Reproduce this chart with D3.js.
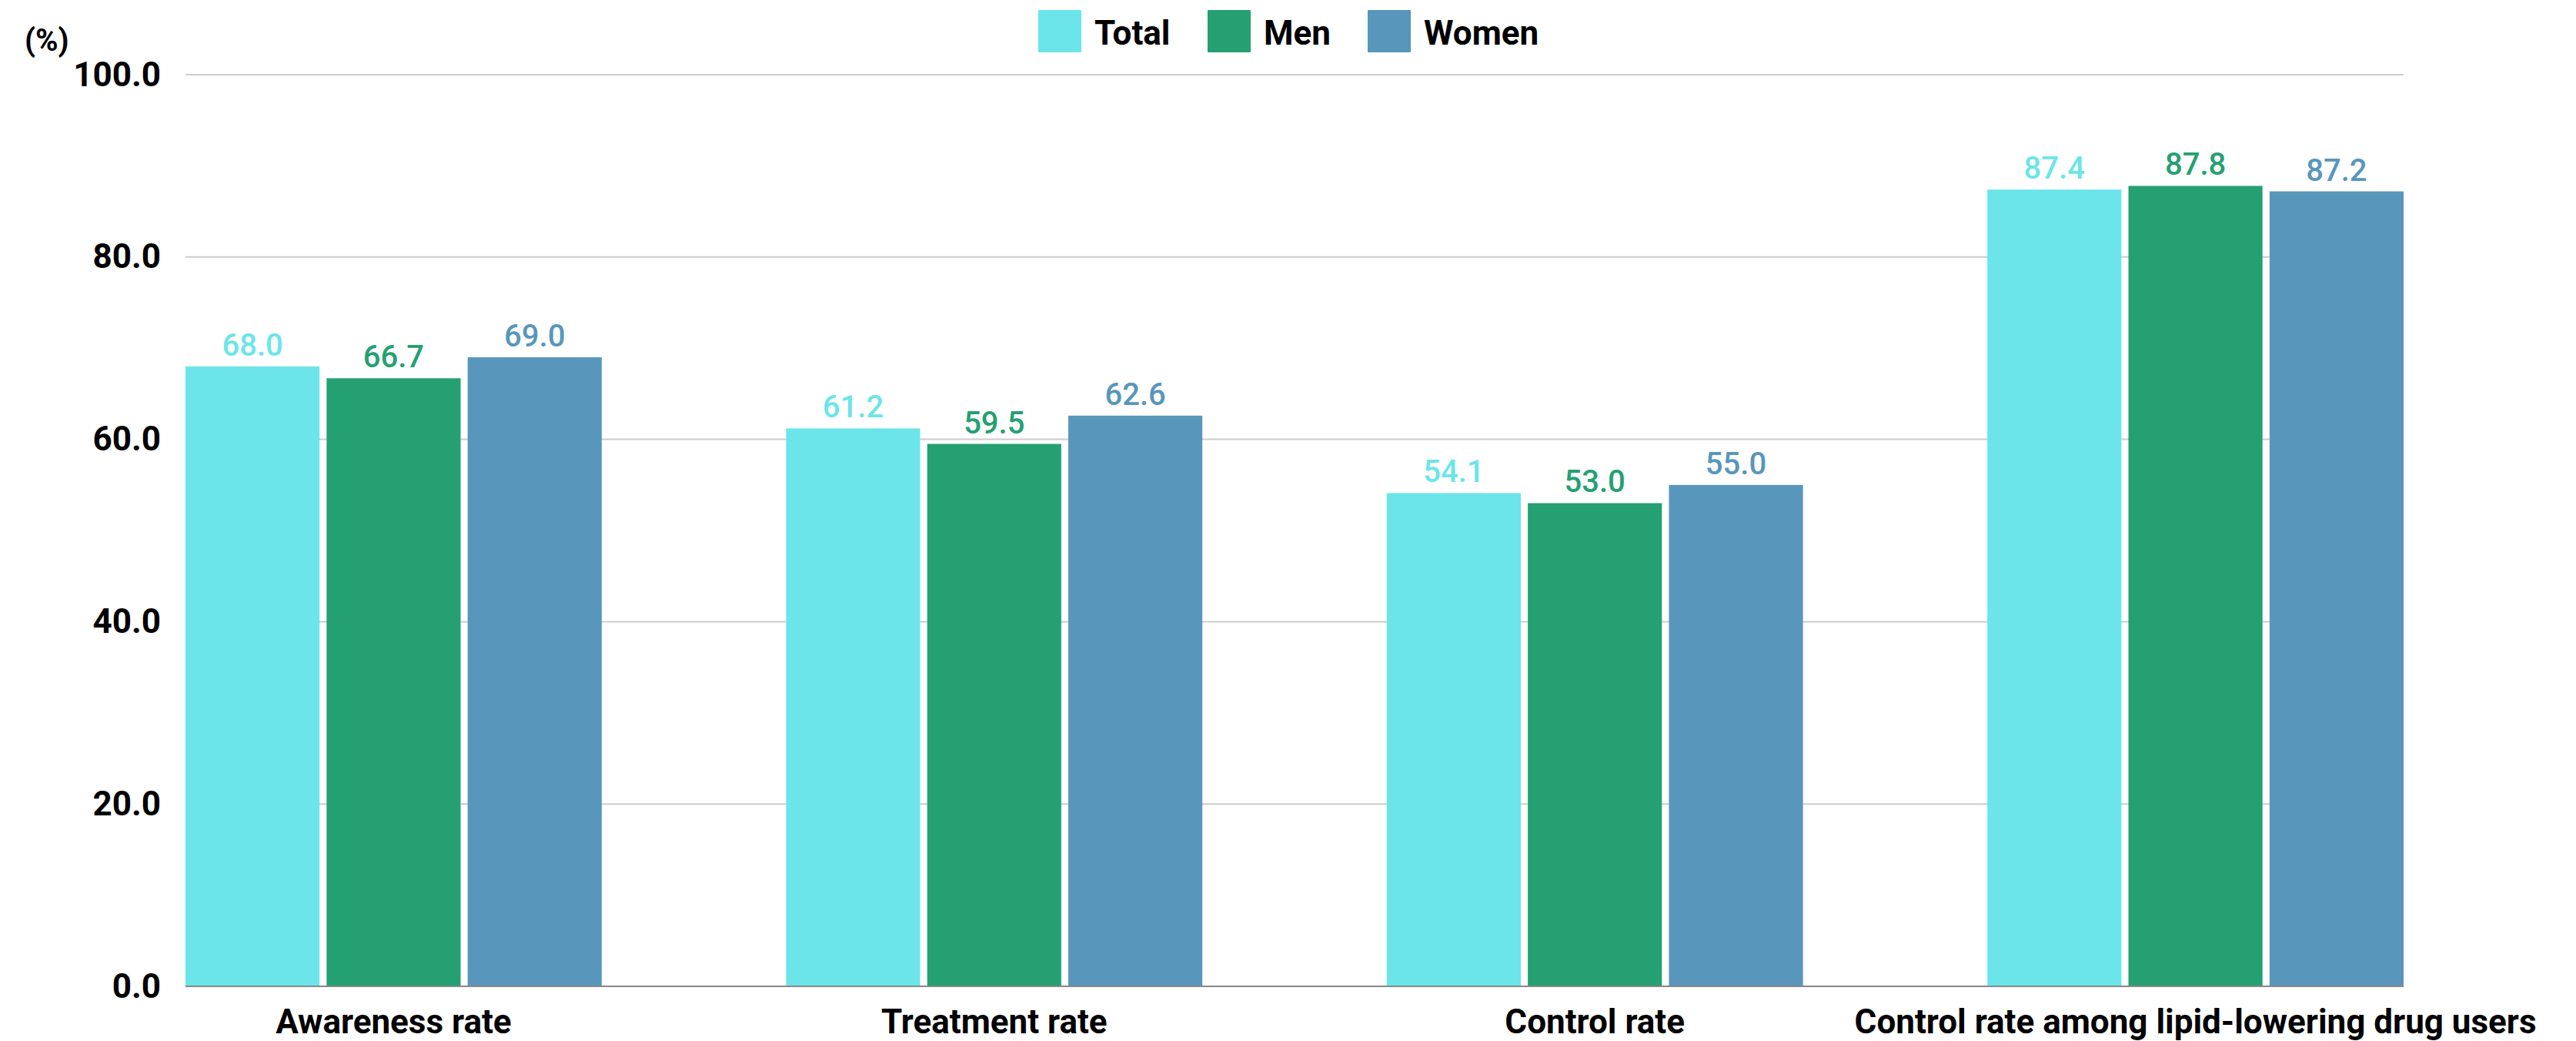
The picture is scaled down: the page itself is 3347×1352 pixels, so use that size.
<!DOCTYPE html>
<html>
<head>
<meta charset="utf-8">
<script src="https://cdn.jsdelivr.net/npm/d3@7"></script>
<style>
  html, body { margin: 0; padding: 0; background: #fff; }
  svg { display: block; font-family: Roboto, "Noto Sans", sans-serif; }
</style>
</head>
<body>
<svg id="chart" width="3347" height="1352"></svg>
<script>
// Dyslipidemia management indicators by sex (%)
const categories = [
  "Awareness rate",
  "Treatment rate",
  "Control rate",
  "Control rate among lipid-lowering drug users"
];
const seriesNames = ["Total", "Men", "Women"];
const totalValues = [68.0, 61.2, 54.1, 87.4];
const menValues   = [66.7, 59.5, 53.0, 87.8];
const womenValues = [69.0, 62.6, 55.0, 87.2];
const yTicks = [0, 20, 40, 60, 80, 100];
const colors = ["#6be5e9", "#24a072", "#5896bc"];

const seriesValues = [totalValues, menValues, womenValues];
const rows = categories.map((c, i) => ({
  category: c,
  values: seriesNames.map((s, j) => ({ series: s, value: seriesValues[j][i], idx: j }))
}));

const svg = d3.select("#chart");
const plotLeft = 241, plotRight = 3123, plotTop = 97, plotBottom = 1281;

const x0 = d3.scaleBand().domain(categories).range([plotLeft, plotRight])
  .paddingInner(0.307).paddingOuter(0);
const x1 = d3.scaleBand().domain(seriesNames).range([0, x0.bandwidth()])
  .paddingInner(0.05).paddingOuter(0);
const y = d3.scaleLinear().domain([0, 100]).range([plotBottom, plotTop]);
const color = d3.scaleOrdinal().domain(seriesNames).range(colors);

// horizontal gridlines
svg.append("g")
  .selectAll("line")
  .data(yTicks.filter(t => t > 0))
  .join("line")
  .attr("x1", plotLeft).attr("x2", plotRight)
  .attr("y1", d => y(d)).attr("y2", d => y(d))
  .attr("stroke", "#cccccc").attr("stroke-width", 2);

// y-axis tick labels
const yAxis = d3.axisLeft(y).tickValues(yTicks).tickFormat(d3.format(".1f")).tickSize(0).tickPadding(32);
const gy = svg.append("g").attr("transform", `translate(${plotLeft},0)`).call(yAxis);
gy.select(".domain").remove();
gy.selectAll("text")
  .attr("font-size", 44).attr("font-weight", 700)
  .attr("fill", "#000").attr("font-family", "Roboto, sans-serif");

// unit label
svg.append("text")
  .attr("x", 32).attr("y", 66)
  .attr("font-size", 40).attr("font-weight", 700)
  .attr("fill", "#000")
  .text("(%)");

// bars
const groups = svg.append("g")
  .selectAll("g")
  .data(rows)
  .join("g")
  .attr("transform", d => `translate(${x0(d.category)},0)`);

groups.selectAll("rect")
  .data(d => d.values)
  .join("rect")
  .attr("x", d => x1(d.series))
  .attr("y", d => y(d.value))
  .attr("width", x1.bandwidth())
  .attr("height", d => y(0) - y(d.value))
  .attr("fill", d => color(d.series));

// value labels
groups.selectAll("text.val")
  .data(d => d.values)
  .join("text")
  .attr("class", "val")
  .attr("x", d => x1(d.series) + x1.bandwidth() / 2)
  .attr("y", d => y(d.value) - 14)
  .attr("text-anchor", "middle")
  .attr("font-size", 40).attr("font-weight", 500)
  .attr("fill", d => color(d.series))
  .text(d => d3.format(".1f")(d.value));

// baseline
svg.append("line")
  .attr("x1", plotLeft).attr("x2", plotRight)
  .attr("y1", y(0)).attr("y2", y(0))
  .attr("stroke", "#888888").attr("stroke-width", 2);

// category labels
const xAxis = d3.axisBottom(x0).tickSize(0).tickPadding(30);
const gx = svg.append("g").attr("transform", `translate(0,${plotBottom})`).call(xAxis);
gx.select(".domain").remove();
gx.selectAll("text")
  .attr("font-size", 44).attr("font-weight", 700)
  .attr("fill", "#000").attr("font-family", "Roboto, sans-serif");

// legend
const legendX = [1349, 1569, 1777];
const legend = svg.append("g")
  .selectAll("g")
  .data(seriesNames)
  .join("g")
  .attr("transform", (d, i) => `translate(${legendX[i]},13)`);
legend.append("rect")
  .attr("width", 56).attr("height", 55).attr("rx", 1)
  .attr("fill", d => color(d));
legend.append("text")
  .attr("x", 73).attr("y", 45)
  .attr("font-size", 44).attr("font-weight", 700)
  .attr("fill", "#000")
  .text(d => d);
</script>
</body>
</html>
